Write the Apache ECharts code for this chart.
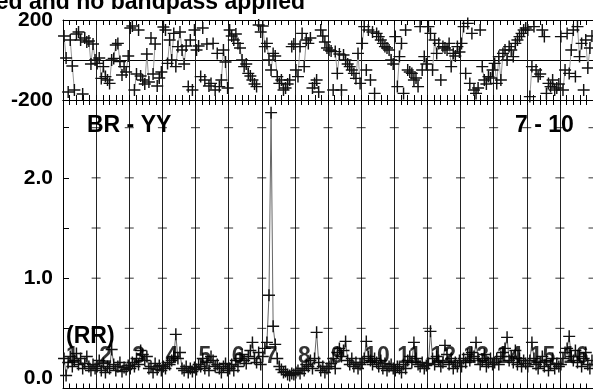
<!DOCTYPE html>
<html>
<head>
<meta charset="utf-8">
<script src="https://cdn.jsdelivr.net/npm/echarts@6.0.0/dist/echarts.min.js"></script>
<style>
html, body { margin: 0; padding: 0; background: #fff; }
#main { width: 593px; height: 389px; }
</style>
</head>
<body>
<div id="main"></div>
<script>
// channels per IF, 16 IFs side by side
var chansPerIF = 16;
var ifNames = ['1', '2', '3', '4', '5', '6', '7', '8', '9', '10', '11', '12', '13', '14', '15', '16'];

// phase (degrees) per IF
var phase01 = [120, 10, -160, 100, -30, -150, 130, 140, 100, -170, 110, 90, 95, -20, 80, 0];
var phase02 = [-17, 10, -92, -33, -83, -100, -117, 0, 8, 75, 83, -8, -75, -33, -60, 20];
var phase03 = [160, 170, -150, -70, 150, -80, -100, -120, 30, -110, 110, -70, 80, -130, -90, -60];
var phase04 = [165, 150, -17, 100, 0, 133, -33, 67, 140, 50, -20, 70, -133, 100, -150, 150];
var phase05 = [50, 70, -83, 160, -100, 80, -130, -117, 83, -150, 33, -133, -100, 50, -10, -140];
var phase06 = [150, 120, 100, 130, 83, 60, 0, -33, -20, -67, -80, -100, -120, -133, 175, 140];
var phase07 = [170, 67, 83, 0, -50, 33, 20, -83, -117, -100, -150, -140, -120, -100, 67, 80];
var phase08 = [-50, -83, 67, 133, -33, 100, 83, 110, -140, -117, -100, -160, 150, 120, 90, 60];
var phase09 = [50, 45, -150, 42, -67, 30, -150, 25, 0, -20, -33, -50, -67, -92, 33, -117];
var phase10 = [83, 167, -50, 150, -100, 140, -167, 133, 117, 100, 83, 67, 60, 50, 0, -20];
var phase11 = [117, -133, 17, 83, -167, 150, -50, -60, -67, -100, -90, -133, 167, -50, 17, -20];
var phase12 = [167, 133, -50, 100, 33, 83, -100, 67, 60, 50, 83, -33, 33, 20, 67, 40];
var phase13 = [83, 167, -67, 183, -117, 133, -150, -167, -140, 150, -33, -100, -120, -83, -90, -50];
var phase14 = [-17, -117, 17, -100, 33, 50, 0, 67, 50, 17, 83, 100, 117, 133, 150, 160];
var phase15 = [150, -183, -33, 167, -50, -83, -70, 150, 117, -167, -117, -133, -100, -150, -140, -120];
var phase16 = [117, -150, -50, 133, -67, 50, 150, -83, 167, 17, 83, -150, 100, -40, 60, 120];

// amplitude per IF
var amp01 = [0.20, 0.03, 0.16, 0.22, 0.12, 0.18, 0.25, 0.14, 0.20, 0.10, 0.15, 0.22, 0.12, 0.08, 0.14, 0.10];
var amp02 = [0.12, 0.18, 0.08, 0.15, 0.06, 0.12, 0.10, 0.29, 0.14, 0.08, 0.12, 0.16, 0.07, 0.11, 0.09, 0.13];
var amp03 = [0.10, 0.16, 0.12, 0.20, 0.14, 0.28, 0.24, 0.18, 0.22, 0.10, 0.12, 0.06, 0.15, 0.09, 0.13, 0.08];
var amp04 = [0.12, 0.10, 0.16, 0.14, 0.18, 0.22, 0.44, 0.20, 0.26, 0.10, 0.08, 0.12, 0.06, 0.10, 0.07, 0.11];
var amp05 = [0.09, 0.14, 0.12, 0.20, 0.10, 0.16, 0.08, 0.22, 0.18, 0.12, 0.14, 0.10, 0.06, 0.12, 0.15, 0.08];
var amp06 = [0.10, 0.14, 0.08, 0.18, 0.12, 0.20, 0.24, 0.18, 0.15, 0.22, 0.28, 0.36, 0.20, 0.16, 0.26, 0.14];
var amp07 = [0.22, 0.30, 0.36, 0.83, 2.65, 0.52, 0.34, 0.20, 0.12, 0.09, 0.06, 0.07, 0.04, 0.03, 0.05, 0.04];
var amp08 = [0.06, 0.08, 0.05, 0.10, 0.08, 0.14, 0.12, 0.18, 0.10, 0.20, 0.46, 0.16, 0.08, 0.12, 0.06, 0.10];
var amp09 = [0.12, 0.15, 0.20, 0.10, 0.26, 0.30, 0.22, 0.28, 0.37, 0.18, 0.14, 0.20, 0.12, 0.16, 0.10, 0.14];
var amp10 = [0.16, 0.20, 0.37, 0.22, 0.18, 0.14, 0.20, 0.16, 0.12, 0.18, 0.10, 0.15, 0.08, 0.12, 0.14, 0.10];
var amp11 = [0.08, 0.12, 0.10, 0.06, 0.14, 0.10, 0.18, 0.22, 0.16, 0.36, 0.20, 0.14, 0.12, 0.16, 0.10, 0.13];
var amp12 = [0.15, 0.47, 0.20, 0.14, 0.22, 0.18, 0.12, 0.16, 0.33, 0.24, 0.14, 0.20, 0.10, 0.16, 0.12, 0.18];
var amp13 = [0.12, 0.20, 0.16, 0.24, 0.18, 0.26, 0.22, 0.36, 0.20, 0.14, 0.18, 0.24, 0.12, 0.16, 0.20, 0.14];
var amp14 = [0.16, 0.20, 0.14, 0.22, 0.26, 0.30, 0.41, 0.18, 0.22, 0.16, 0.28, 0.14, 0.20, 0.12, 0.18, 0.15];
var amp15 = [0.12, 0.18, 0.36, 0.20, 0.14, 0.10, 0.16, 0.22, 0.12, 0.18, 0.08, 0.14, 0.20, 0.10, 0.15, 0.12];
var amp16 = [0.14, 0.20, 0.26, 0.30, 0.42, 0.22, 0.18, 0.28, 0.16, 0.22, 0.12, 0.20, 0.26, 0.14, 0.10, 0.18];

// tick labels
var phaseLabels = [-200, 200];
var ampLabels = [0, 1, 2];
var ampTicks = [0.5, 1, 1.5, 2, 2.5];

var phases = [phase01, phase02, phase03, phase04, phase05, phase06, phase07, phase08,
              phase09, phase10, phase11, phase12, phase13, phase14, phase15, phase16];
var amps = [amp01, amp02, amp03, amp04, amp05, amp06, amp07, amp08,
            amp09, amp10, amp11, amp12, amp13, amp14, amp15, amp16];

var nChan = chansPerIF * ifNames.length;
var boldFont = { fontFamily: 'Liberation Sans', fontWeight: 'bold', color: '#000' };

// points as [channel, value]; a gap between IFs (and at phase wraps)
function toPoints(list, wrapBreak) {
  var out = [];
  list.forEach(function (vals, k) {
    vals.forEach(function (v, i) {
      if (wrapBreak && i > 0 && Math.abs(v - vals[i - 1]) > 150) {
        out.push([k * chansPerIF + i, '-']);
      }
      out.push([k * chansPerIF + i + 0.5, v]);
    });
    out.push([(k + 1) * chansPerIF, '-']);
  });
  return out;
}

var dashes = [];
for (var b = 1; b <= ifNames.length; b++) {
  ampTicks.forEach(function (t) { dashes.push([b * chansPerIF, t]); });
}
var ifLabelPts = ifNames.map(function (n, k) { return [k * chansPerIF, 0.22]; });

// plus-shaped marker, a bit heavier than a hairline
var plus = 'path://M0,4.4H10V5.6H0ZM4.4,0H5.6V10H4.4Z';

function xAx(grid, pos) {
  return {
    type: 'value', gridIndex: grid, position: pos,
    min: 0, max: nChan, interval: chansPerIF,
    axisLine: { show: true, onZero: false, lineStyle: { color: '#000', width: 1 } },
    axisTick: { show: true, inside: true, length: 5, lineStyle: { color: '#000' } },
    minorTick: { show: true, splitNumber: 5, length: 5, lineStyle: { color: '#000' } },
    splitLine: { show: true, lineStyle: { color: '#222', width: 1 } },
    axisLabel: { show: false }
  };
}

var chart = echarts.init(document.getElementById('main'));
chart.setOption({
  animation: false,
  backgroundColor: '#fff',
  grid: [
    { left: 63, top: 20, width: 533.6, height: 80 },
    { left: 63, top: 100, width: 533.6, height: 289 }
  ],
  xAxis: [xAx(0, 'bottom'), xAx(0, 'top'), xAx(1, 'top'), xAx(1, 'bottom')],
  yAxis: [
    {
      type: 'value', gridIndex: 0, min: -200, max: 200, interval: 200,
      axisLine: { show: true, lineStyle: { color: '#000' } },
      axisTick: { show: false },
      splitLine: { show: true, lineStyle: { color: '#000' } },
      axisLabel: Object.assign({ customValues: phaseLabels, fontSize: 21, margin: 10 }, boldFont)
    },
    {
      type: 'value', gridIndex: 1, min: -0.1, max: 2.776,
      axisLine: { show: true, lineStyle: { color: '#000' } },
      axisTick: { show: true, inside: true, length: 6, customValues: ampTicks, lineStyle: { color: '#000' } },
      splitLine: { show: false },
      axisLabel: Object.assign({
        customValues: ampLabels, fontSize: 21, margin: 10,
        formatter: function (v) { return v.toFixed(1); }
      }, boldFont)
    }
  ],
  series: [
    {
      type: 'line', xAxisIndex: 0, yAxisIndex: 0,
      data: toPoints(phases, true),
      symbol: plus, symbolSize: 12, showAllSymbol: true,
      itemStyle: { color: '#111' },
      lineStyle: { color: '#999', width: 1 }
    },
    {
      type: 'line', xAxisIndex: 3, yAxisIndex: 1,
      data: toPoints(amps, false),
      symbol: plus, symbolSize: 12, showAllSymbol: true,
      itemStyle: { color: '#111' },
      lineStyle: { color: '#666', width: 1 }
    },
    {
      type: 'scatter', xAxisIndex: 3, yAxisIndex: 1,
      data: dashes, symbol: 'rect', symbolSize: [9, 1],
      itemStyle: { color: '#000' }, silent: true
    },
    {
      type: 'scatter', xAxisIndex: 3, yAxisIndex: 1, z: 5,
      data: ifLabelPts, symbolSize: 0,
      label: Object.assign({
        show: true, position: 'right', distance: 3, fontSize: 23,
        formatter: function (p) { return ifNames[p.dataIndex]; }
      }, boldFont)
    }
  ],
  graphic: [
    { type: 'text', x: 305, y: 3, z: 10, style: { text: 'Uncalibrated and no bandpass applied', align: 'right', verticalAlign: 'middle', font: 'bold 23px "Liberation Sans"', fill: '#000' } },
    { type: 'text', x: 87, y: 126, z: 10, style: { text: 'BR - YY', align: 'left', verticalAlign: 'middle', font: 'bold 23px "Liberation Sans"', fill: '#000' } },
    { type: 'text', x: 515, y: 126, z: 10, style: { text: '7 - 10', align: 'left', verticalAlign: 'middle', font: 'bold 23px "Liberation Sans"', fill: '#000' } },
    { type: 'text', x: 66, y: 337, z: 10, style: { text: '(RR)', align: 'left', verticalAlign: 'middle', font: 'bold 23px "Liberation Sans"', fill: '#000' } }
  ]
});
</script>
</body>
</html>
